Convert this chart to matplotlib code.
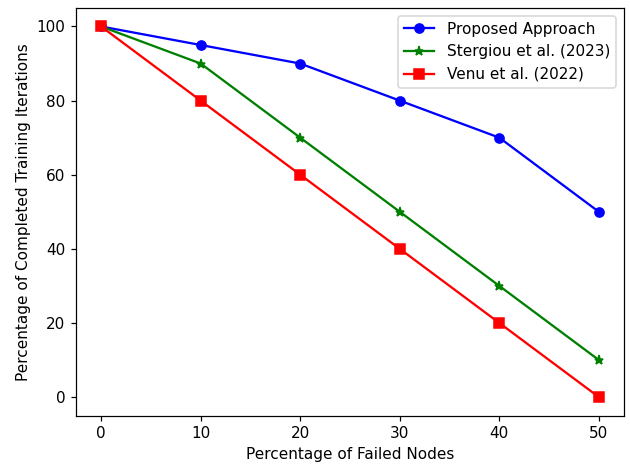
import matplotlib
matplotlib.use("Agg")
import matplotlib.pyplot as plt

failed = [0, 10, 20, 30, 40, 50]
proposed = [100, 95, 90, 80, 70, 50]
stergiou = [100, 90, 70, 50, 30, 10]
venu = [100, 80, 60, 40, 20, 0]

# reference looks like the default style drawn a bit larger
fig, ax = plt.subplots(figsize=(630 / 110, 468 / 110), dpi=110)
fig.subplots_adjust(left=0.121, right=0.990, top=0.983, bottom=0.112)

ax.plot(failed, proposed, color="blue", marker="o", label="Proposed Approach")
ax.plot(failed, stergiou, color="green", marker="*", label="Stergiou et al. (2023)")
ax.plot(failed, venu, color="red", marker="s", label="Venu et al. (2022)")

ax.set_xlabel("Percentage of Failed Nodes")
ax.set_ylabel("Percentage of Completed Training Iterations")
ax.legend(loc="upper right")

plt.savefig("out.png")
